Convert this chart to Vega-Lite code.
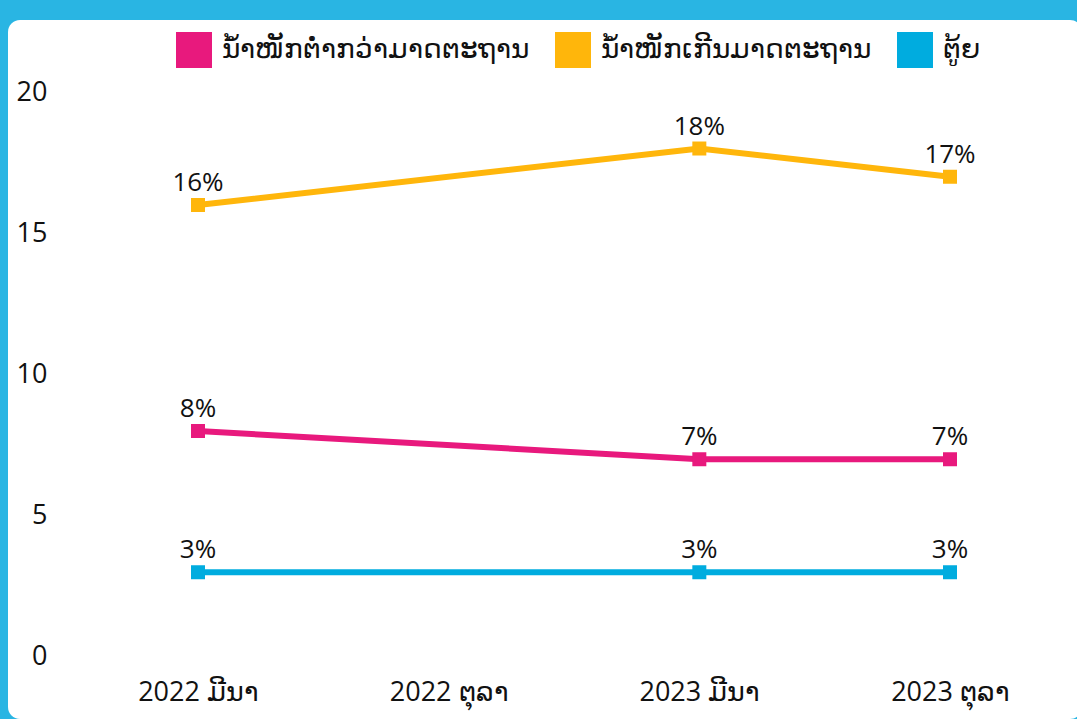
{
  "$schema": "https://vega.github.io/schema/vega-lite/v6.json",
  "autosize": {"type": "none"},
  "padding": {"left": 8, "top": 20, "right": 0, "bottom": 0},
  "width": 1074,
  "height": 699,
  "background": "#29b5e3",
  "config": {
    "view": {"stroke": null, "fill": "#ffffff", "cornerRadius": 12},
    "font": "Open Sans",
    "axis": {"domain": false, "ticks": false, "grid": false, "labelColor": "#111111", "labelFont": "Open Sans", "labelFontSize": 27}
  },
  "data": {
    "values": [
      {"period": "2022 ມີນາ", "series": "ນ້ຳໜັກຕ່ຳກວ່າມາດຕະຖານ", "value": 8, "label": "8%"},
      {"period": "2023 ມີນາ", "series": "ນ້ຳໜັກຕ່ຳກວ່າມາດຕະຖານ", "value": 7, "label": "7%"},
      {"period": "2023 ຕຸລາ", "series": "ນ້ຳໜັກຕ່ຳກວ່າມາດຕະຖານ", "value": 7, "label": "7%"},
      {"period": "2022 ມີນາ", "series": "ນ້ຳໜັກເກີນມາດຕະຖານ", "value": 16, "label": "16%"},
      {"period": "2023 ມີນາ", "series": "ນ້ຳໜັກເກີນມາດຕະຖານ", "value": 18, "label": "18%"},
      {"period": "2023 ຕຸລາ", "series": "ນ້ຳໜັກເກີນມາດຕະຖານ", "value": 17, "label": "17%"},
      {"period": "2022 ມີນາ", "series": "ຕູ້ຍ", "value": 3, "label": "3%"},
      {"period": "2023 ມີນາ", "series": "ຕູ້ຍ", "value": 3, "label": "3%"},
      {"period": "2023 ຕຸລາ", "series": "ຕູ້ຍ", "value": 3, "label": "3%"}
    ]
  },
  "encoding": {
    "x": {
      "field": "period",
      "type": "ordinal",
      "scale": {"type": "point", "domain": ["2022 ມີນາ", "2022 ຕຸລາ", "2023 ມີນາ", "2023 ຕຸລາ"], "range": [190, 942], "padding": 0},
      "axis": {"title": null, "labelAngle": 0, "orient": "bottom", "offset": -27, "labelPadding": 0, "labelBaseline": "middle", "labelDx": 5}
    },
    "y": {
      "field": "value",
      "type": "quantitative",
      "scale": {"domain": [-2.195, 22.549], "nice": false, "zero": false},
      "axis": {"title": null, "values": [0, 5, 10, 15, 20], "offset": -39, "labelPadding": 0, "labelBaseline": "middle"}
    },
    "color": {
      "field": "series",
      "type": "nominal",
      "scale": {"domain": ["ນ້ຳໜັກຕ່ຳກວ່າມາດຕະຖານ", "ນ້ຳໜັກເກີນມາດຕະຖານ", "ຕູ້ຍ"], "range": ["#e8197d", "#ffb60b", "#00acdf"]},
      "legend": {
        "title": null,
        "orient": "none",
        "direction": "horizontal",
        "legendX": 168,
        "legendY": 12,
        "symbolType": "square",
        "symbolSize": 1296,
        "symbolStrokeWidth": 0,
        "symbolOpacity": 1,
        "labelFontSize": 28,
        "labelFont": "Open Sans",
        "labelColor": "#111111",
        "labelLimit": 500,
        "labelOffset": 10,
        "columnPadding": 26
      }
    }
  },
  "layer": [
    {"mark": {"type": "line", "strokeWidth": 6}},
    {"mark": {"type": "point", "shape": "square", "filled": true, "size": 196, "opacity": 1}},
    {
      "mark": {"type": "text", "fontSize": 26, "font": "Open Sans", "color": "#111111", "baseline": "alphabetic", "dy": -14},
      "encoding": {"text": {"field": "label"}, "color": {"value": "#111111"}}
    }
  ]
}
